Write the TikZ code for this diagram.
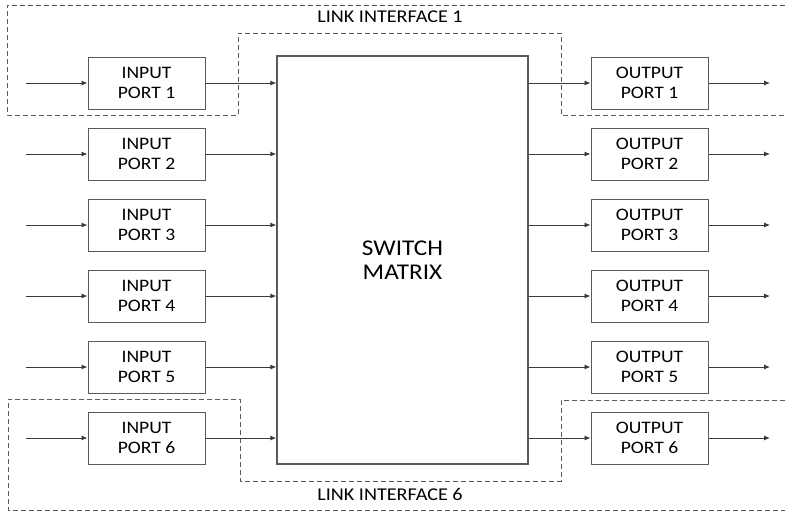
\documentclass[tikz,border=0pt]{standalone}
\usepackage{fontspec}
\setmainfont{Carlito}[FakeStretch=1.12]
\usetikzlibrary{arrows.meta}
\definecolor{boxgray}{HTML}{5A5A5A}
\definecolor{linegray}{HTML}{3A3A3A}
\tikzset{
  portbox/.style={draw=boxgray, line width=1pt, fill=white, minimum width=117pt, minimum height=52pt, inner sep=0pt, align=center, font=\fontsize{17.5}{20}\selectfont},
  matrixbox/.style={draw=boxgray, line width=1.2pt, minimum width=251pt, minimum height=408pt, inner sep=0pt, align=center, font=\fontsize{22.5}{23.5}\selectfont},
  sig/.style={draw=linegray, line width=0.9pt, -{Latex[length=6pt,width=5pt]}},
  linkline/.style={draw=boxgray, line width=0.9pt, dash pattern=on 5pt off 3pt},
  linklabel/.style={font=\fontsize{18}{20}\selectfont, inner sep=1pt}
}
\begin{document}
\begin{tikzpicture}[x=1pt,y=-1pt]
\useasboundingbox (0,0) rectangle (785,512);
% link interfaces
\draw[linkline] (785,5) -- (7,5) -- (7,115) -- (238,115) -- (238,33) -- (561,33) -- (561,115) -- (785,115);
\draw[linkline] (785,400) -- (561,400) -- (561,481) -- (240,481) -- (240,399) -- (8,399) -- (8,510) -- (785,510);
\node[linklabel] (l1) at (390,17) {LINK INTERFACE 1};
\node[linklabel] (l6) at (390,494) {LINK INTERFACE 6};
% switch matrix
\node[matrixbox] (sw) at (402.5,260) {SWITCH\\MATRIX};
% ports
\foreach \i/\y in {1/83,2/154,3/225,4/296,5/367,6/438}{
  \node[portbox] (in\i) at (146.5,\y) {INPUT\\PORT \i};
  \node[portbox] (out\i) at (649.5,\y) {OUTPUT\\PORT \i};
  \coordinate (src\i) at (26,\y);
  \coordinate (dst\i) at (770,\y);
  \draw[sig] (src\i) -- (in\i.west);
  \draw[sig] (in\i.east) -- (in\i.east -| sw.west);
  \draw[sig] (out\i.west -| sw.east) -- (out\i.west);
  \draw[sig] (out\i.east) -- (dst\i);
}
\end{tikzpicture}
\end{document}
